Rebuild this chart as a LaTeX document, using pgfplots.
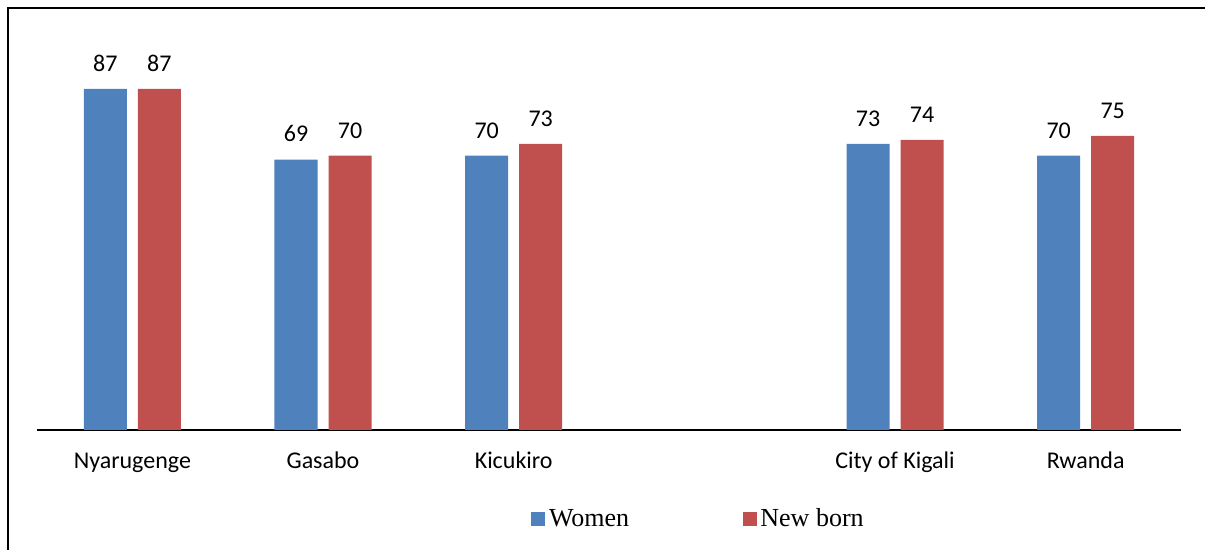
\documentclass[border=0pt]{standalone}
\usepackage{fontspec}
\setmainfont{Liberation Serif}
\newfontfamily\carlito{Carlito}
\usepackage{pgfplots}
\pgfplotsset{compat=1.18}
\definecolor{cblue}{HTML}{4F81BD}
\definecolor{cred}{HTML}{C0504D}

\begin{document}
\begin{tikzpicture}
% 1 px of the reference = 0.5pt; origin = left end of the axis line
\useasboundingbox (-18.5pt,-60pt) rectangle (584pt,215pt);
\draw[line width=1.1pt] (-14.5pt,-62pt) -- (-14.5pt,211pt) -- (586pt,211pt);
\begin{axis}[
    at={(0pt,0pt)}, anchor=south west,
    scale only axis,
    width=572pt, height=196pt,
    xmin=-0.5, xmax=5.5, ymin=0, ymax=100,
    ybar=5.5pt, bar width=21.5pt,
    axis x line*=bottom, axis y line=none,
    axis line style={line width=0.65pt},
    major tick length=0pt,
    xtick={0,1,2,4,5},
    xticklabels={Nyarugenge,Gasabo,Kicukiro,City of Kigali,Rwanda},
    x tick label style={font=\carlito\fontsize{12}{14}\selectfont, anchor=base, inner sep=0pt, yshift=-19.5pt},
    ytick=\empty,
    /pgf/number format/assume math mode=true,
    nodes near coords,
    nodes near coords style={font=\carlito\fontsize{12}{14}\selectfont, anchor=south, inner sep=0pt, yshift=8.5pt, text=black},
    legend columns=2,
    legend style={draw=none, fill=none, at={(247pt,-44.5pt)}, anchor=west,
        font=\fontsize{13}{15}\selectfont, inner sep=0pt,
        nodes={inner xsep=1.8pt, inner ysep=0pt},
        /tikz/column 2/.style={column sep=55pt}},
    legend image code/.code={\fill[#1] (0pt,-3.5pt) rectangle (7pt,3.5pt);},
]
\addplot[fill=cblue, draw=none] coordinates {(0,87) (1,69) (2,70) (4,73) (5,70)};
\addplot[fill=cred, draw=none] coordinates {(0,87) (1,70) (2,73) (4,74) (5,75)};
\legend{Women, New born}
\end{axis}
\end{tikzpicture}
\end{document}
